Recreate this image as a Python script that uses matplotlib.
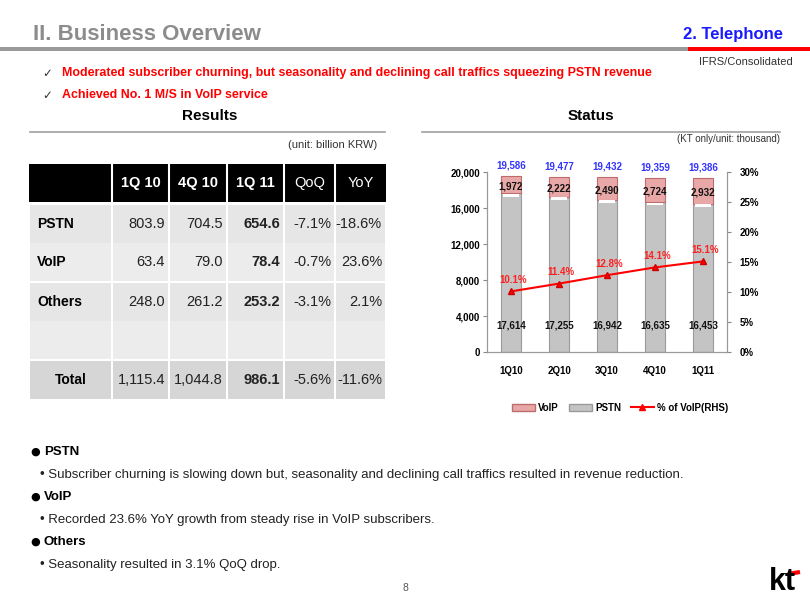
import numpy as np
import matplotlib.pyplot as plt
from matplotlib.patches import Rectangle, Patch
from matplotlib.lines import Line2D

plt.rcParams['font.family'] = ['Liberation Sans', 'DejaVu Sans']

# chart data (KT only, thousand subscribers)
quarters = ['1Q10', '2Q10', '3Q10', '4Q10', '1Q11']
pstn = [17614, 17255, 16942, 16635, 16453]
voip = [1972, 2222, 2490, 2724, 2932]
totals = [19586, 19477, 19432, 19359, 19386]
voip_share = [10.1, 11.4, 12.8, 14.1, 15.1]

# table data (billion KRW)
table_cols = ['1Q 10', '4Q 10', '1Q 11', 'QoQ', 'YoY']
table_rows = ['PSTN', 'VoIP', 'Others', '', 'Total']
table_vals = [
    ['803.9', '704.5', '654.6', '-7.1%', '-18.6%'],
    ['63.4', '79.0', '78.4', '-0.7%', '23.6%'],
    ['248.0', '261.2', '253.2', '-3.1%', '2.1%'],
    ['', '', '', '', ''],
    ['1,115.4', '1,044.8', '986.1', '-5.6%', '-11.6%'],
]

headlines = ['Moderated subscriber churning, but seasonality and declining call traffics squeezing PSTN revenue',
             'Achieved No. 1 M/S in VoIP service']
bullets = [('PSTN', 'Subscriber churning is slowing down but, seasonality and declining call traffics resulted in revenue reduction.'),
           ('VoIP', 'Recorded 23.6% YoY growth from steady rise in VoIP subscribers.'),
           ('Others', 'Seasonality resulted in 3.1% QoQ drop.')]

W, H = 810, 608
fig = plt.figure(figsize=(W / 100, H / 100), dpi=100)

# overlay in pixel coordinates for the slide furniture
ov = fig.add_axes([0, 0, 1, 1])
ov.set_xlim(0, W)
ov.set_ylim(H, 0)
ov.axis('off')

# header
ov.text(33, 34, 'II. Business Overview', fontsize=16, fontweight='bold', color='#8c8c8c',
        va='center', ha='left')
ov.add_patch(Rectangle((0, 47), 688, 4, color='#9a9a9a', lw=0))
ov.add_patch(Rectangle((688, 47), W - 688, 4, color='#ff0000', lw=0))
ov.text(783, 34, '2. Telephone', fontsize=12, fontweight='bold', color='#1a1aff',
        va='center', ha='right')
ov.text(793, 62, 'IFRS/Consolidated', fontsize=8, color='#333333', va='center', ha='right')

for i, h in enumerate(headlines):
    y = 73 + i * 22
    ov.text(42, y, '\u2713', fontsize=8.5, color='#333333', va='center', ha='left', family=['DejaVu Sans'])
    ov.text(62, y, h, fontsize=8.9, fontweight='bold', color='#ff0000', va='center', ha='left')

# section titles
ov.text(210, 116, 'Results', fontsize=11, fontweight='bold', ha='center', va='center')
ov.plot([30, 385], [132, 132], color='#a0a0a0', lw=1.2)
ov.text(591, 116, 'Status', fontsize=11, fontweight='bold', ha='center', va='center')
ov.plot([422, 780], [132, 132], color='#a0a0a0', lw=1.2)
ov.text(377, 145, '(unit: billion KRW)', fontsize=8, color='#333333', ha='right', va='center')
ov.text(780, 139, '(KT only/unit: thousand)', fontsize=7, color='#333333', ha='right', va='center')

# results table
col_edges = [29, 112, 169, 227, 284, 335, 386]
row_tops = [205, 243, 283, 321, 361]
row_h = 38
row_colors = ['#e6e6e6', '#ececec', '#e6e6e6', '#ececec', '#d6d6d6']
ov.add_patch(Rectangle((col_edges[0], 164), col_edges[-1] - col_edges[0], 38, color='black', lw=0))
for j, c in enumerate(table_cols):
    x0, x1 = col_edges[j + 1], col_edges[j + 2]
    ov.plot([x0, x0], [164, 202], color='white', lw=1.5)
    ov.text((x0 + x1) / 2, 183, c, color='white', fontsize=10.5,
            fontweight='bold' if j < 3 else 'normal', ha='center', va='center')
for i, name in enumerate(table_rows):
    top = row_tops[i]
    for j in range(len(col_edges) - 1):
        ov.add_patch(Rectangle((col_edges[j] + 1, top), col_edges[j + 1] - col_edges[j] - 2, row_h,
                               color=row_colors[i], lw=0))
    if name == 'Total':
        ov.text((col_edges[0] + col_edges[1]) / 2, top + row_h / 2, name, fontsize=10,
                fontweight='bold', ha='center', va='center')
    else:
        ov.text(col_edges[0] + 8, top + row_h / 2, name, fontsize=10, fontweight='bold',
                ha='left', va='center')
    for j, v in enumerate(table_vals[i]):
        ov.text(col_edges[j + 2] - 4, top + row_h / 2, v, fontsize=10.5, color='#222222',
                fontweight='bold' if j == 2 else 'normal', ha='right', va='center')

# bullets
for i, (head, body) in enumerate(bullets):
    y = 452 + i * 45
    ov.text(30, y, '\u25cf', fontsize=8, ha='left', va='center', family=['DejaVu Sans'])
    ov.text(44, y, head, fontsize=9.5, fontweight='bold', ha='left', va='center')
    ov.text(40, y + 23, '\u2022 ' + body, fontsize=9.5, ha='left', va='center', color='#222222')

ov.text(405, 588, '8', fontsize=7.5, color='#555555', ha='center', va='center')
ov.text(782, 582, 'kt', fontsize=22, fontweight='bold', ha='center', va='center', color='black')
ov.plot([788, 800], [574, 572], color='#ff0000', lw=3, solid_capstyle='butt')

# status chart
ax = fig.add_axes([487 / W, 1 - 352 / H, 240 / W, 180 / H])
x = np.arange(len(quarters))
bw = 0.42
ax.bar(x, pstn, bw, color='#c4c4c4', edgecolor='#9a9a9a', lw=0.8, zorder=2)
ax.bar(x, [300] * len(x), bw * 0.8, bottom=np.array(pstn) - 350, color='white', lw=0, zorder=3)
ax.bar(x, voip, bw, bottom=pstn, color='#e9a8a8', edgecolor='#c06b6b', lw=0.8, zorder=2)
ax.set_xlim(-0.5, 4.5)
ax.set_ylim(0, 20000)
ax.set_yticks(range(0, 20001, 4000))
ax.set_yticklabels([f'{v:,}' for v in range(0, 20001, 4000)], fontsize=7, fontweight='bold')
ax.set_xticks(x)
ax.set_xticklabels(quarters, fontsize=7, fontweight='bold')
ax.tick_params(axis='x', length=0, pad=10)
ax.tick_params(axis='y', length=3, color='#888888', pad=2)
ax.spines['top'].set_visible(False)
for s in ['left', 'right', 'bottom']:
    ax.spines[s].set_color('#999999')

for i in range(len(x)):
    ax.text(x[i], totals[i] + 1150, f'{totals[i]:,}', color='#3333ff', fontsize=7,
            fontweight='bold', ha='center', va='center', clip_on=False)
    ax.text(x[i], pstn[i] + voip[i] * 0.42, f'{voip[i]:,}', color='#111111', fontsize=7,
            fontweight='bold', ha='center', va='center', zorder=5)
    ax.text(x[i], 2900, f'{pstn[i]:,}', color='#111111', fontsize=7, fontweight='bold',
            ha='center', va='center', zorder=5)

ax2 = ax.twinx()
ax2.set_ylim(0, 30)
ax2.set_yticks(range(0, 31, 5))
ax2.set_yticklabels([f'{v}%' for v in range(0, 31, 5)], fontsize=7, fontweight='bold')
ax2.tick_params(axis='y', length=3, color='#888888', pad=6)
ax2.spines['top'].set_visible(False)
for s in ['left', 'right', 'bottom']:
    ax2.spines[s].set_color('#999999')
ax2.plot(x, voip_share, color='#ff0000', lw=1.5, marker='^', ms=5, mfc='#ff0000', mec='#cc0000', zorder=4)
for i in range(len(x)):
    ax2.text(x[i] + 0.05, voip_share[i] + 1.9, f'{voip_share[i]}%', color='#ff2020', fontsize=7,
             fontweight='bold', ha='center', va='center')

handles = [Patch(facecolor='#e9a8a8', edgecolor='#c06b6b', label='VoIP'),
           Patch(facecolor='#c4c4c4', edgecolor='#9a9a9a', label='PSTN'),
           Line2D([], [], color='#ff0000', lw=1.5, marker='^', ms=5, label='% of VoIP(RHS)')]
fig.legend(handles=handles, loc='center', bbox_to_anchor=(620 / W, 1 - 408 / H), ncol=3, frameon=False,
           prop={'size': 7, 'weight': 'bold'}, handlelength=2.4, handleheight=0.8, columnspacing=1.0,
           handletextpad=0.3)

fig.savefig('out.png', dpi=100)
